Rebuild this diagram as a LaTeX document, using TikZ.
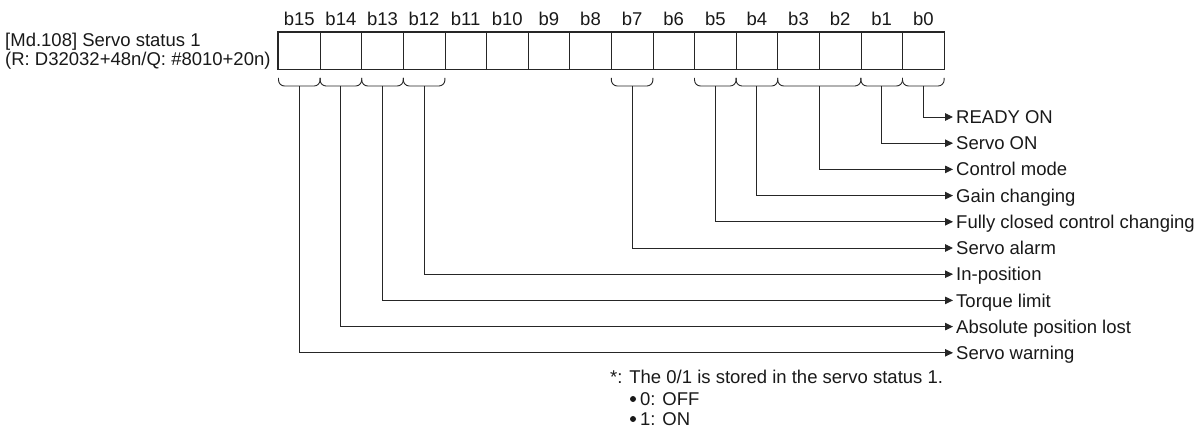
\documentclass[tikz,border=0pt]{standalone}
\usepackage{fontspec}
\setmainfont{Liberation Sans}
\usetikzlibrary{arrows.meta}
\begin{document}
\begin{tikzpicture}[x=1pt,y=-1pt,
  txt/.style={font=\fontsize{18.5}{22}\selectfont, inner sep=0pt, text height=16pt, text depth=2.8pt, text=black!90},
  lab/.style={txt, anchor=west, inner xsep=3pt},
  cellbox/.style={draw=black!85, line width=0.8pt, minimum width=41.6pt, minimum height=37pt, inner sep=0pt},
  conn/.style={draw=black!85, line width=0.9pt},
  arr/.style={conn, -{Triangle[length=8pt,width=7.5pt]}},
  brace/.style={conn, rounded corners=6pt},
  dot/.style={circle, fill=black!90, inner sep=0pt, minimum size=6pt}]
\useasboundingbox (0,0) rectangle (1198,430);
\def\L{278.5}
\def\W{41.6}
% cells and headers
\foreach \i in {0,...,15}{
  \pgfmathsetmacro{\cx}{\L+(\i+0.5)*\W}
  \pgfmathtruncatemacro{\n}{15-\i}
  \node[cellbox] (c\i) at (\cx,50.5) {};
  \node[txt] (h\i) at (\cx,19) {b\n};
}
\draw[black!85, line width=1.4pt] (c0.north west) rectangle (c15.south east);
% register name
\node[txt, anchor=west] (name1) at (5,40) {[Md.108] Servo status 1};
\node[txt, anchor=west] (name2) at (5,59) {(R: D32032+48n/Q: \#8010+20n)};
% braces: first cell index / last cell index / name
\foreach \a/\b/\nm in {0/0/b15,1/1/b14,2/2/b13,3/3/b12,8/8/b7,10/10/b5,11/11/b4,12/13/b3,14/14/b1,15/15/b0}{
  \pgfmathsetmacro{\xl}{\L+\a*\W}
  \pgfmathsetmacro{\xr}{\L+(\b+1)*\W}
  \pgfmathsetmacro{\xm}{(\xl+\xr)/2}
  \draw[brace] (\xl,78) -- (\xl,86) -- (\xr,86) -- (\xr,78);
  \coordinate (br\nm) at (\xm,86);
}
% labels
\node[lab] (l0) at (953,117) {READY ON};
\node[lab] (l1) at (953,143.2) {Servo ON};
\node[lab] (l2) at (953,169.4) {Control mode};
\node[lab] (l3) at (953,195.6) {Gain changing};
\node[lab] (l4) at (953,221.8) {Fully closed control changing};
\node[lab] (l5) at (953,248) {Servo alarm};
\node[lab] (l6) at (953,274.2) {In-position};
\node[lab] (l7) at (953,300.4) {Torque limit};
\node[lab] (l8) at (953,326.6) {Absolute position lost};
\node[lab] (l9) at (953,352.8) {Servo warning};
% connectors
\draw[arr] (brb0) |- (l0.west);
\draw[arr] (brb1) |- (l1.west);
\draw[arr] (brb3) |- (l2.west);
\draw[arr] (brb4) |- (l3.west);
\draw[arr] (brb5) |- (l4.west);
\draw[arr] (brb7) |- (l5.west);
\draw[arr] (brb12) |- (l6.west);
\draw[arr] (brb13) |- (l7.west);
\draw[arr] (brb14) |- (l8.west);
\draw[arr] (brb15) |- (l9.west);
% footnote
\node[txt, anchor=west] (fn) at (610,377) {*: The 0/1 is stored in the servo status 1.};
\node[dot] (d0) at (633,399) {};
\node[txt, anchor=west] (f0) at (640,399) {0: OFF};
\node[dot] (d1) at (633,419) {};
\node[txt, anchor=west] (f1) at (640,419) {1: ON};
\end{tikzpicture}
\end{document}
